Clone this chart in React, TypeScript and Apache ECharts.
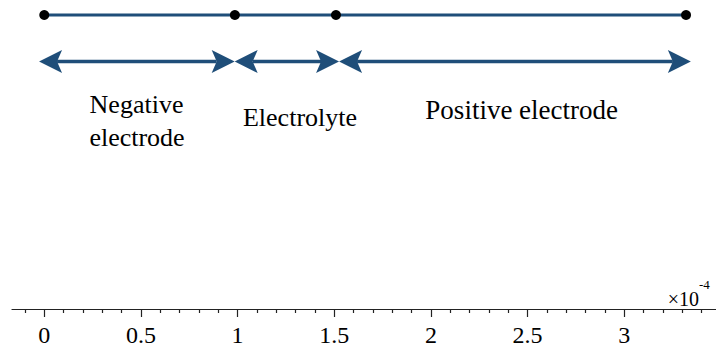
import React, { useEffect, useRef } from "react";
import * as echarts from "echarts";

// Positions along the cell thickness, in units of 1e-4
const nodePositions = [0, 0.986, 1.509, 3.32];
// Boundaries of the three double-headed region arrows
const arrowEdges = [-0.027, 0.985, 1.525, 3.345];
const regionNames = ["Negative\nelectrode", "Electrolyte", "Positive electrode"];
const majorTicks = [0, 0.5, 1, 1.5, 2, 2.5, 3];
const minorTicks = [
  -0.1, 0.1, 0.2, 0.3, 0.4, 0.6, 0.7, 0.8, 0.9, 1.1, 1.2, 1.3, 1.4, 1.6, 1.7,
  1.8, 1.9, 2.1, 2.2, 2.3, 2.4, 2.6, 2.7, 2.8, 2.9, 3.1, 3.2, 3.3, 3.4,
];
const axisExponent = "-4";

// Layout (pixel rows inside the grid, y axis runs top-down)
const ROW_NODES = 15;
const ROW_ARROWS = 61.5;
const BLUE = "#1f4e79";
const SERIF = "Liberation Serif";
const X_MIN = -0.167;
const X_MAX = 3.475;

export default function App() {
  const ref = useRef<HTMLDivElement>(null);

  useEffect(() => {
    if (!ref.current) return;
    const chart = echarts.init(ref.current, null, { renderer: "svg" });

    const nodeData = nodePositions.map((x) => [x, ROW_NODES]);
    const arrowData = arrowEdges.slice(0, -1).map((x, i) => [x, arrowEdges[i + 1], ROW_ARROWS]);

    const headLen = 23;
    const headHalf = 11.5;
    const notch = 5;

    const gridBox = { left: 12, right: 0, top: 0, bottom: 41, containLabel: false, outerBoundsMode: "none" };
    const textStyle = (text: string, size: number, align: string) => ({
      text,
      fontSize: size,
      fontFamily: SERIF,
      fill: "#000",
      align,
      verticalAlign: "middle",
    });

    const option: any = {
      animation: false,
      grid: [gridBox, gridBox],
      xAxis: [
        {
          type: "value",
          gridIndex: 0,
          min: X_MIN,
          max: X_MAX,
          position: "bottom",
          axisLine: { show: true, onZero: false, lineStyle: { color: "#222", width: 1.2 } },
          axisTick: { show: true, customValues: majorTicks, length: 8, lineStyle: { color: "#222", width: 1.2 } },
          axisLabel: {
            customValues: majorTicks,
            fontSize: 24,
            fontFamily: SERIF,
            color: "#000",
            margin: 14,
          },
          splitLine: { show: false },
        },
        {
          type: "value",
          gridIndex: 1,
          min: X_MIN,
          max: X_MAX,
          position: "bottom",
          axisLine: { show: false, onZero: false },
          axisTick: { show: true, customValues: minorTicks, length: 4, lineStyle: { color: "#222", width: 1.2 } },
          axisLabel: { show: false },
          splitLine: { show: false },
        },
      ],
      yAxis: [
        { type: "value", gridIndex: 0, min: 0, max: 309, inverse: true, show: false },
        { type: "value", gridIndex: 1, min: 0, max: 309, inverse: true, show: false },
      ],
      series: [
        {
          type: "custom",
          xAxisIndex: 0,
          yAxisIndex: 0,
          encode: { x: [0, 1], y: 2 },
          data: arrowData,
          renderItem: (_params: any, api: any) => {
            const a = api.coord([api.value(0), api.value(2)]);
            const b = api.coord([api.value(1), api.value(2)]);
            const y = a[1];
            const x1 = a[0];
            const x2 = b[0];
            const style = { fill: BLUE };
            return {
              type: "group",
              children: [
                {
                  type: "line",
                  shape: { x1: x1 + headLen - notch, y1: y, x2: x2 - headLen + notch, y2: y },
                  style: { stroke: BLUE, lineWidth: 3.5 },
                },
                {
                  type: "polygon",
                  shape: {
                    points: [
                      [x1, y],
                      [x1 + headLen, y - headHalf],
                      [x1 + headLen - notch, y],
                      [x1 + headLen, y + headHalf],
                    ],
                  },
                  style,
                },
                {
                  type: "polygon",
                  shape: {
                    points: [
                      [x2, y],
                      [x2 - headLen, y - headHalf],
                      [x2 - headLen + notch, y],
                      [x2 - headLen, y + headHalf],
                    ],
                  },
                  style,
                },
              ],
            };
          },
        },
        {
          type: "line",
          xAxisIndex: 0,
          yAxisIndex: 0,
          data: nodeData,
          symbol: "circle",
          symbolSize: 10,
          showSymbol: true,
          itemStyle: { color: "#000", borderWidth: 0 },
          lineStyle: { color: BLUE, width: 3 },
          clip: false,
          z: 3,
        },
      ],
      graphic: [
        { type: "text", x: 136.5, y: 104.5, style: textStyle(regionNames[0].split("\n")[0], 26, "center") },
        { type: "text", x: 137, y: 137.9, style: textStyle(regionNames[0].split("\n")[1], 26, "center") },
        { type: "text", x: 300, y: 117.9, style: textStyle(regionNames[1], 26, "center") },
        { type: "text", x: 521.7, y: 109.5, style: textStyle(regionNames[2], 27, "center") },
        { type: "text", x: 699, y: 298.5, style: textStyle("×10", 20, "right") },
        { type: "text", x: 699, y: 284, style: textStyle(axisExponent, 13, "left") },
      ],
    };

    chart.setOption(option);
    return () => chart.dispose();
  }, []);

  return <div ref={ref} style={{ width: 716, height: 350, position: "absolute", left: 0, top: 0, background: "#fff" }} />;
}
